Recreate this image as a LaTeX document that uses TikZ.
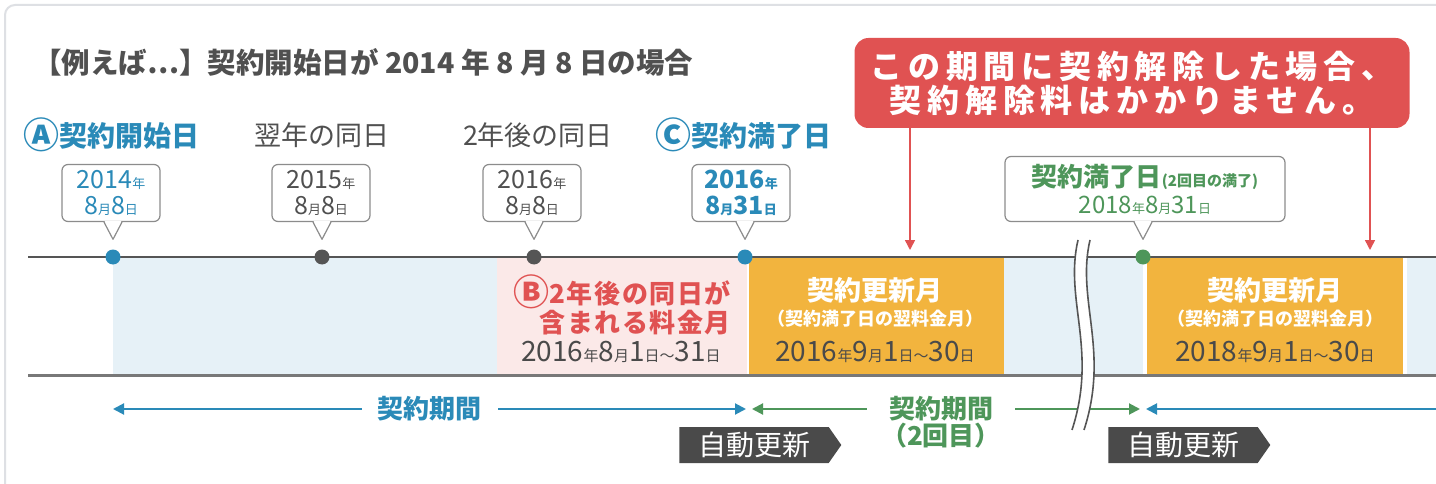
\documentclass[tikz,border=0pt]{standalone}
\usepackage{fontspec}
\setmainfont{Noto Sans CJK JP}
\usetikzlibrary{arrows.meta,shapes.symbols}
\definecolor{cblue}{RGB}{42,138,184}
\definecolor{cgreen}{RGB}{78,150,90}
\definecolor{cred}{RGB}{224,82,82}
\definecolor{corange}{RGB}{242,180,62}
\definecolor{clblue}{RGB}{230,241,247}
\definecolor{cpink}{RGB}{251,233,232}
\definecolor{cdark}{RGB}{74,74,74}
\definecolor{ctext}{RGB}{80,80,80}
\definecolor{cline}{RGB}{85,85,85}
\definecolor{cbline}{RGB}{120,120,120}
\definecolor{cgrayline}{RGB}{140,140,140}
\definecolor{cframe}{RGB}{222,224,228}
\newcommand\kn[1]{{\fontsize{13}{13}\selectfont #1}}
\newcommand\knb[1]{{\fontsize{15}{15}\selectfont #1}}
\newcommand\kns[1]{{\fontsize{13}{13}\selectfont #1}}
\newcommand\circl[1]{{\fontsize{36}{26}\selectfont\raisebox{-0.1ex}{#1}}}
\newcommand\ptr[2]{%
  \coordinate (tip#1) at ([yshift=10pt]#2.north);
  \coordinate (b#1) at (#1.south -| tip#1);
  \fill[white] ([xshift=-8.4pt,yshift=1pt]b#1) -- (tip#1) -- ([xshift=8.4pt,yshift=1pt]b#1) -- cycle;
  \draw[ptrline] ([xshift=-9pt]b#1) -- (tip#1) -- ([xshift=9pt]b#1);}
\begin{document}
\begin{tikzpicture}[x=1pt,y=-1pt,
  dot/.style={circle, minimum size=15pt, inner sep=0pt},
  callbox/.style={draw=cgrayline, line width=1.2pt, fill=white, rounded corners=6pt,
    minimum width=98pt, minimum height=57pt, inner sep=0pt, align=center,
    font=\fontsize{25}{26}\selectfont},
  ptrline/.style={draw=cgrayline, line width=1.2pt, line join=round},
  lbl/.style={font=\fontsize{27}{27}\selectfont, inner sep=0pt},
  redarr/.style={draw=cred, line width=1.5pt, -{Triangle[length=10pt,width=10pt]}},
  periodarrow/.style={line width=2pt, {Triangle[length=11pt,width=11pt]}-{Triangle[length=11pt,width=11pt]}},
  autobox/.style={signal, signal to=east, signal from=nowhere, signal pointer angle=110,
    fill=cdark, text=white, minimum width=162pt, minimum height=36pt, inner sep=0pt,
    font=\fontsize{28}{28}\selectfont},
  bandtitle/.style={text=white, font=\bfseries\fontsize{27}{27}\selectfont, inner sep=0pt},
  bandsub/.style={text=white, font=\bfseries\fontsize{18}{18}\selectfont, inner sep=0pt},
  banddate/.style={text=cdark, font=\fontsize{28}{28}\selectfont, inner sep=0pt},
]
\useasboundingbox (0,0) rectangle (1436,484);
\fill[white] (0,0) rectangle (1436,484);
\draw[draw=cframe, line width=2pt, rounded corners=10pt] (5,5) rectangle (1480,530);

% band
\fill[clblue] (113,258) rectangle (497,374);
\fill[cpink] (497,258) rectangle (747,374);
\fill[corange] (749,258) rectangle (1004,374);
\fill[clblue] (1004,258) rectangle (1143,374);
\fill[corange] (1147,258) rectangle (1403,374);
\fill[clblue] (1407,258) rectangle (1436,374);
\draw[cline, line width=2pt] (28,257) -- (1436,257);
\draw[cbline, line width=3pt] (28,375) -- (1436,375);

% title
\node[anchor=west, inner sep=0pt, text=ctext, font=\bfseries\fontsize{28.5}{28.5}\selectfont] (title) at (33,62)
  {【例えば⋯】契約開始日が 2014 年 8 月 8 日の場合};

% labels
\node[lbl, anchor=west, text=cblue, font=\bfseries\fontsize{28}{28}\selectfont] (lA) at (23,135) {\circl{Ⓐ}契約開始日};
\node[lbl, text=ctext] (l2) at (322,135) {翌年の同日};
\node[lbl, text=ctext] (l3) at (538,135) {2年後の同日};
\node[lbl, anchor=west, text=cblue, font=\bfseries\fontsize{28}{28}\selectfont] (lC) at (655,135) {\circl{Ⓒ}契約満了日};

% dots
\node[dot, fill=cblue] (d1) at (113,257) {};
\node[dot, fill=cline] (d2) at (322,257) {};
\node[dot, fill=cline] (d3) at (534,257) {};
\node[dot, fill=cblue] (d4) at (745,257) {};
\node[dot, fill=cgreen] (d5) at (1143,257) {};

% callouts
\node[callbox, text=cblue] (c1) at (111,193) {2014\kn{年}\\8\kn{月}8\kn{日}};
\node[callbox, text=ctext] (c2) at (321,193) {2015\kn{年}\\8\kn{月}8\kn{日}};
\node[callbox, text=ctext] (c3) at (532,193) {2016\kn{年}\\8\kn{月}8\kn{日}};
\node[callbox, text=cblue, font=\bfseries\fontsize{25}{26}\selectfont] (c4) at (741,193) {2016\kn{年}\\8\kn{月}31\kn{日}};
\node[callbox, text=cgreen, minimum width=280pt, minimum height=65pt, font=\fontsize{24}{27}\selectfont] (c5) at (1145,189)
  {{\bfseries\fontsize{26}{26}\selectfont 契約満了日}{\bfseries\fontsize{15}{15}\selectfont (2回目の満了)}\\2018\kns{年}8\kns{月}31\kns{日}};
\ptr{c1}{d1}
\ptr{c2}{d2}
\ptr{c3}{d3}
\ptr{c4}{d4}
\ptr{c5}{d5}

% red callout
\node[fill=cred, rounded corners=14pt, minimum width=555pt, minimum height=90pt, inner sep=0pt,
  text=white, align=center, font=\bfseries\fontsize{32}{34}\selectfont\addfontfeatures{LetterSpace=18}] (rc) at (1132,83)
  {この期間に契約解除した場合、\\契約解除料はかかりません。};
\coordinate (t1) at (910,250);
\coordinate (t2) at (1370,250);
\draw[redarr] (rc.south -| t1) -- (t1);
\draw[redarr] (rc.south -| t2) -- (t2);

% band texts
\node[anchor=east, inner sep=0pt, text=cred, align=right, font=\bfseries\fontsize{26}{27}\selectfont\addfontfeatures{LetterSpace=6}] (bt) at (731,305)
  {\circl{Ⓑ}2年後の同日が\\含まれる料金月};
\node[banddate] (bd) at (621,352) {2016\knb{年}8\knb{月}1\knb{日}\knb{〜}31\knb{日}};
\node[bandtitle] (o1a) at (875,290) {契約更新月};
\node[bandsub] (o1b) at (875,319) {（契約満了日の翌料金月）};
\node[banddate] (o1c) at (875,352) {2016\knb{年}9\knb{月}1\knb{日}\knb{〜}30\knb{日}};
\node[bandtitle] (o2a) at (1275,290) {契約更新月};
\node[bandsub] (o2b) at (1275,319) {（契約満了日の翌料金月）};
\node[banddate] (o2c) at (1275,352) {2018\knb{年}9\knb{月}1\knb{日}\knb{〜}30\knb{日}};

% period arrows
\coordinate (pa1) at (113,409);
\coordinate (pa2) at (746,409);
\coordinate (pg1) at (752,409);
\coordinate (pg2) at (1140,409);
\coordinate (pb1) at (1146,409);
\coordinate (pb2) at (1436,409);
\draw[periodarrow, cblue] (pa1) -- (pa2) node[midway, fill=white, inner xsep=16pt, inner ysep=2pt, text=cblue,
  font=\bfseries\fontsize{26}{26}\selectfont] (pl1) {契約期間};
\draw[periodarrow, cgreen] (pg1) -- (pg2);
\node[fill=white, inner xsep=14pt, inner ysep=0pt, text=cgreen, align=center, anchor=north,
  font=\bfseries\fontsize{26}{27}\selectfont] (pl2) at (941,396) {契約期間\\（2回目）};
\draw[line width=2pt, cblue, {Triangle[length=11pt,width=11pt]}-] (pb1) -- (pb2);

% auto renew
\node[autobox] (au1) at (754,445) {自動更新};
\node[autobox] (au2) at (1183,445) {自動更新};

% break mark
\fill[white] (1078,240) .. controls (1064,300) and (1098,350) .. (1072,430)
  -- (1084,430) .. controls (1110,350) and (1076,300) .. (1090,240) -- cycle;
\draw[cline, line width=1.6pt] (1078,240) .. controls (1064,300) and (1098,350) .. (1072,430);
\draw[cline, line width=1.6pt] (1090,240) .. controls (1076,300) and (1110,350) .. (1084,430);
\end{tikzpicture}
\end{document}
